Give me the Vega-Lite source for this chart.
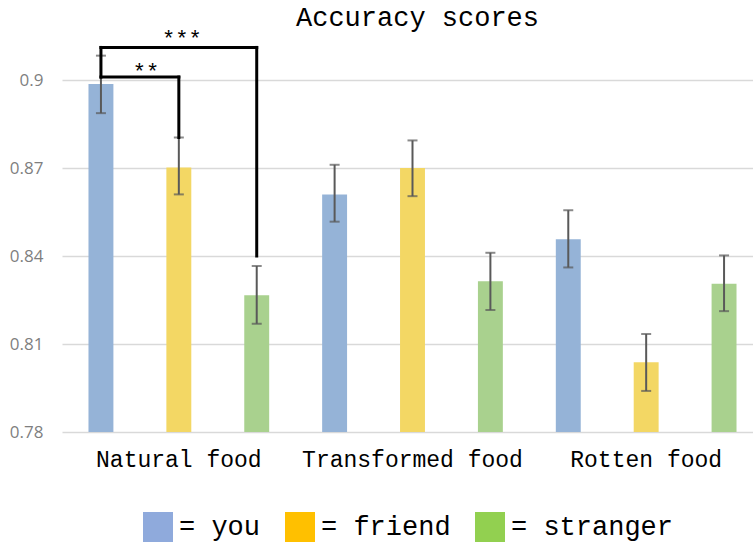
{
  "$schema": "https://vega.github.io/schema/vega-lite/v6.json",
  "width": 691,
  "height": 396,
  "autosize": {"type": "none"},
  "padding": {"left": 62, "top": 36, "right": 0, "bottom": 113},
  "background": "white",
  "title": {"text": "Accuracy scores", "font": "Liberation Mono", "fontSize": 27, "fontWeight": "normal", "color": "black", "anchor": "middle", "dx": 10, "offset": -25, "baseline": "alphabetic"},
  "config": {"view": {"stroke": null}},
  "datasets": {
    "bars": [
      {"key": "Natural food|you", "group": "Natural food", "who": "you", "value": 0.8986, "lo": 0.8887, "hi": 0.9083},
      {"key": "Natural food|friend", "group": "Natural food", "who": "friend", "value": 0.8702, "lo": 0.8610, "hi": 0.8804},
      {"key": "Natural food|stranger", "group": "Natural food", "who": "stranger", "value": 0.8266, "lo": 0.8169, "hi": 0.8366},
      {"key": "Transformed food|you", "group": "Transformed food", "who": "you", "value": 0.8610, "lo": 0.8517, "hi": 0.8711},
      {"key": "Transformed food|friend", "group": "Transformed food", "who": "friend", "value": 0.8700, "lo": 0.8604, "hi": 0.8794},
      {"key": "Transformed food|stranger", "group": "Transformed food", "who": "stranger", "value": 0.8314, "lo": 0.8216, "hi": 0.8411},
      {"key": "Rotten food|you", "group": "Rotten food", "who": "you", "value": 0.8457, "lo": 0.8361, "hi": 0.8556},
      {"key": "Rotten food|friend", "group": "Rotten food", "who": "friend", "value": 0.8038, "lo": 0.7940, "hi": 0.8134},
      {"key": "Rotten food|stranger", "group": "Rotten food", "who": "stranger", "value": 0.8305, "lo": 0.8212, "hi": 0.8402}
    ],
    "brackets": [
      {"x": "Natural food|you", "x2": "Natural food|friend", "y": 0.9010, "y2": 0.9010},
      {"x": "Natural food|friend", "x2": "Natural food|friend", "y": 0.9010, "y2": 0.8804},
      {"x": "Natural food|you", "x2": "Natural food|you", "y": 0.9010, "y2": 0.9111},
      {"x": "Natural food|you", "x2": "Natural food|stranger", "y": 0.9111, "y2": 0.9111},
      {"x": "Natural food|stranger", "x2": "Natural food|stranger", "y": 0.9111, "y2": 0.8400}
    ]
  },
  "layer": [
    {
      "data": {"name": "bars"},
      "mark": {"type": "bar"},
      "encoding": {
        "x": {
          "field": "key", "type": "nominal", "title": null,
          "scale": {
            "domain": ["Natural food|you", "Natural food|friend", "Natural food|stranger", "Transformed food|you", "Transformed food|friend", "Transformed food|stranger", "Rotten food|you", "Rotten food|friend", "Rotten food|stranger"],
            "range": [0, 701], "paddingInner": 0.68, "paddingOuter": 0.34
          },
          "axis": {
            "labelExpr": "split(datum.value, '|')[1] == 'friend' ? split(datum.value, '|')[0] : ''",
            "labelAngle": 0, "ticks": false, "domain": false, "grid": false,
            "labelFont": "Liberation Mono", "labelFontSize": 23, "labelColor": "black",
            "labelPadding": 16, "labelOverlap": false, "labelLimit": 400, "labelBound": false
          }
        },
        "y": {
          "field": "value", "type": "quantitative", "title": null,
          "scale": {"domain": [0.78, 0.915], "nice": false, "zero": false},
          "axis": {
            "values": [0.78, 0.81, 0.84, 0.87, 0.9], "format": ".2~f",
            "ticks": false, "domain": false, "grid": true, "gridColor": "#D9D9D9", "gridWidth": 1.5,
            "labelFont": "Open Sans", "labelFontSize": 17, "labelColor": "#7F7F7F", "labelPadding": 19
          }
        },
        "y2": {"datum": 0.78},
        "fill": {
          "field": "who", "type": "nominal",
          "scale": {"domain": ["you", "friend", "stranger"], "range": ["#95B3D7", "#F3D764", "#A9D18E"]},
          "legend": null
        }
      }
    },
    {
      "data": {"name": "bars"},
      "mark": {"type": "square", "opacity": 0, "filled": true},
      "encoding": {
        "x": {"field": "key", "type": "nominal", "title": null},
        "y": {"field": "value", "type": "quantitative", "title": null},
        "color": {
          "field": "who", "type": "nominal", "sort": ["you", "friend", "stranger"],
          "scale": {"range": ["#8FAADC", "#FFC000", "#92D050"]},
          "legend": {
            "title": null, "orient": "none", "legendX": 81, "legendY": 476, "direction": "horizontal",
            "symbolType": "square", "symbolSize": 900, "symbolOpacity": 1, "symbolStrokeWidth": 0,
            "labelFont": "Liberation Mono", "labelFontSize": 27, "labelColor": "black", "labelOffset": 6,
            "columnPadding": 24, "labelExpr": "'= ' + datum.label", "labelLimit": 300, "padding": 0
          }
        }
      }
    },
    {
      "data": {"name": "bars"},
      "mark": {"type": "rule", "color": "#595959", "strokeWidth": 2},
      "encoding": {
        "x": {"field": "key", "type": "nominal", "title": null},
        "y": {"field": "lo", "type": "quantitative", "title": null},
        "y2": {"field": "hi"}
      }
    },
    {
      "data": {"name": "bars"},
      "mark": {"type": "tick", "color": "#595959", "thickness": 2, "size": 10},
      "encoding": {
        "x": {"field": "key", "type": "nominal", "title": null},
        "y": {"field": "lo", "type": "quantitative", "title": null}
      }
    },
    {
      "data": {"name": "bars"},
      "mark": {"type": "tick", "color": "#595959", "thickness": 2, "size": 10},
      "encoding": {
        "x": {"field": "key", "type": "nominal", "title": null},
        "y": {"field": "hi", "type": "quantitative", "title": null}
      }
    },
    {
      "data": {"name": "brackets"},
      "mark": {"type": "rule", "color": "black", "strokeWidth": 3, "strokeCap": "square"},
      "encoding": {
        "x": {"field": "x", "type": "nominal", "title": null},
        "x2": {"field": "x2"},
        "y": {"field": "y", "type": "quantitative", "title": null},
        "y2": {"field": "y2"}
      }
    },
    {
      "data": {"values": [{"x": "Natural food|friend", "y": 0.9111, "label": "***"}]},
      "mark": {"type": "text", "font": "Liberation Mono", "fontSize": 22, "color": "black", "align": "center", "baseline": "alphabetic", "dx": 3, "dy": -1},
      "encoding": {
        "x": {"field": "x", "type": "nominal", "title": null},
        "y": {"field": "y", "type": "quantitative", "title": null},
        "text": {"field": "label"}
      }
    },
    {
      "data": {"values": [{"x": "Natural food|you", "y": 0.9010, "label": "**"}]},
      "mark": {"type": "text", "font": "Liberation Mono", "fontSize": 22, "color": "black", "align": "center", "baseline": "alphabetic", "dx": 45, "dy": 2},
      "encoding": {
        "x": {"field": "x", "type": "nominal", "title": null},
        "y": {"field": "y", "type": "quantitative", "title": null},
        "text": {"field": "label"}
      }
    }
  ]
}
